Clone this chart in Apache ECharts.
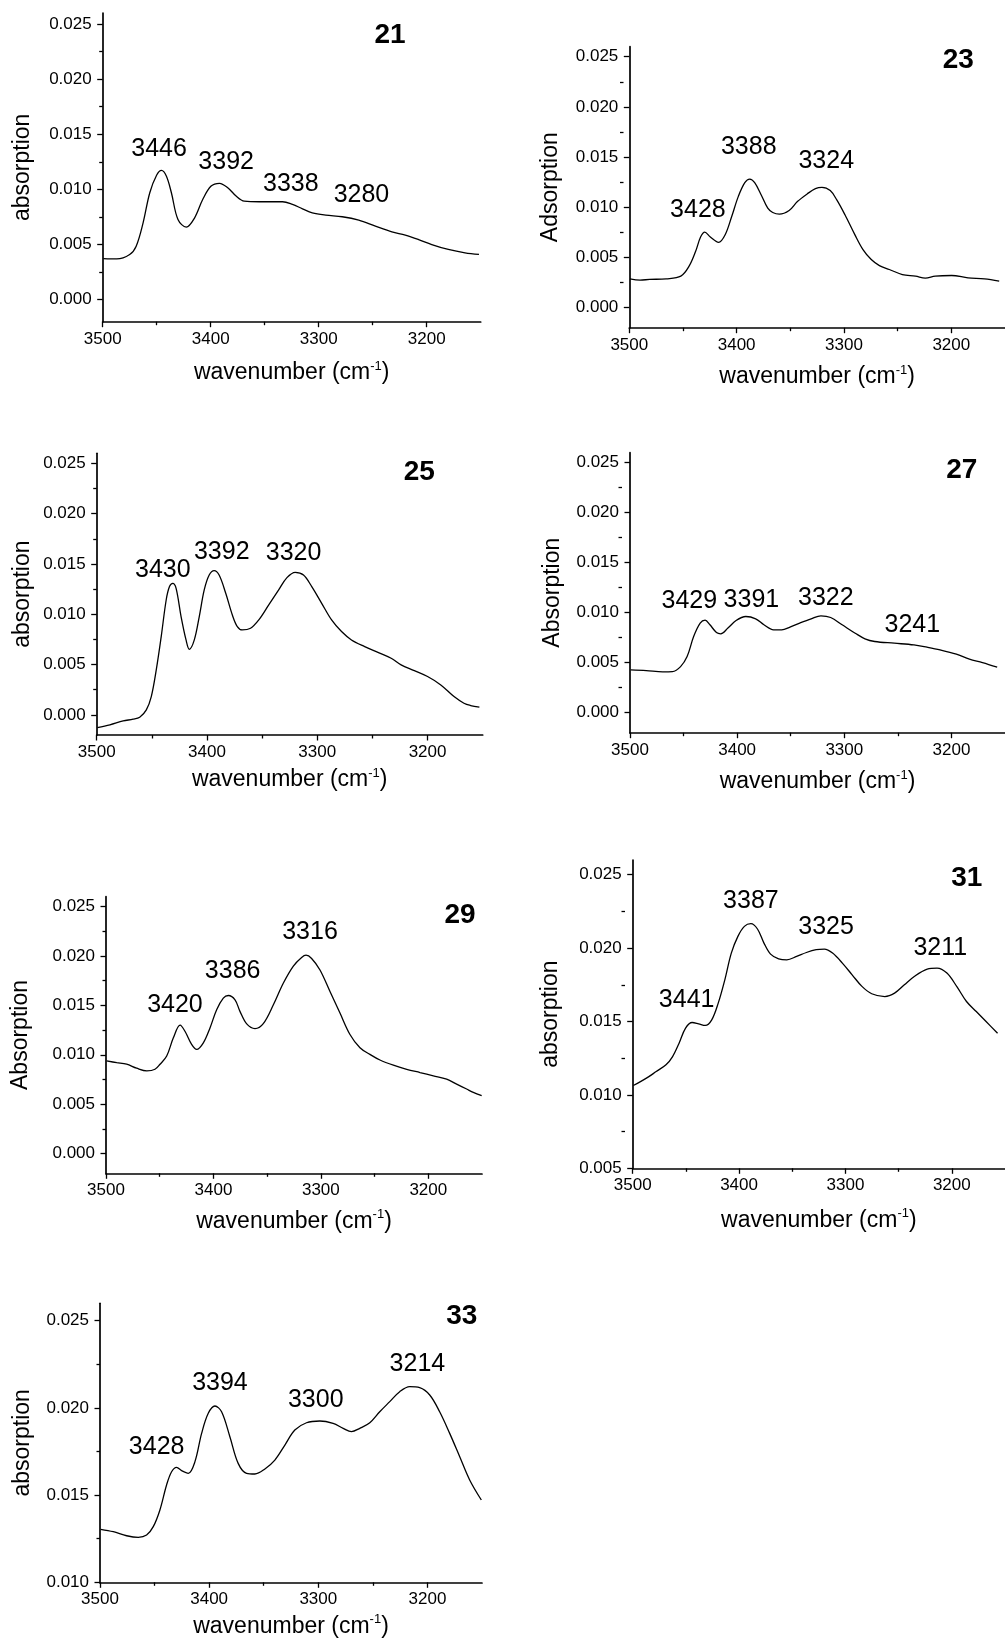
<!DOCTYPE html>
<html><head><meta charset="utf-8">
<script src="https://cdn.jsdelivr.net/npm/echarts@6/dist/echarts.min.js"></script>
<style>html,body{margin:0;padding:0;background:#fff}#c{width:1005px;height:1640px}</style>
</head><body><div id="c"></div>
<script>
// ---- tick values ----
const xMajor = [3200, 3300, 3400, 3500];
const xMinor = [3250, 3350, 3450];
const yMajorA = [0, 0.005, 0.010, 0.015, 0.020, 0.025];
const yMinorA = [0.0025, 0.0075, 0.0125, 0.0175, 0.0225];
const yMajorB = [0.005, 0.010, 0.015, 0.020, 0.025];
const yMinorB = [0.0075, 0.0125, 0.0175, 0.0225];
const yMajorC = [0.010, 0.015, 0.020, 0.025];
const yMinorC = [0.0125, 0.0175, 0.0225];

// ---- panel ids and titles ----
const panelIds = ['21', '23', '25', '27', '29', '31', '33'];
const yTitles = ['absorption', 'Adsorption', 'absorption', 'Absorption', 'Absorption', 'absorption', 'absorption'];

// ---- spectra [wavenumber, absorption] ----
const s21 = [[3499.4,0.00373],[3487,0.0037],[3475,0.0041],[3469,0.00485],[3462.6,0.00697],[3456.4,0.0097],[3450,0.0113],[3445.6,0.01173],[3441,0.0112],[3436.4,0.0097],[3430.3,0.00727],[3422.6,0.00658],[3415,0.0074],[3407.3,0.0091],[3399.6,0.0103],[3391.9,0.01055],[3384.2,0.01015],[3376.5,0.0094],[3368.9,0.00894],[3355,0.00888],[3333.5,0.00888],[3324.3,0.00864],[3315,0.00824],[3305.9,0.00788],[3293.5,0.00767],[3278.2,0.00752],[3262.9,0.00721],[3247.5,0.00667],[3232.2,0.00615],[3219.8,0.00585],[3207.5,0.00545],[3195.3,0.005],[3180,0.00455],[3164.5,0.00424],[3151.6,0.0041]];
const s23 = [[3499.4,0.00287],[3490,0.00274],[3481,0.00281],[3465.7,0.00287],[3452,0.00314],[3444.3,0.00413],[3438.2,0.00561],[3433.6,0.00703],[3429.7,0.00753],[3424.5,0.00703],[3416.8,0.0065],[3410.7,0.00726],[3404.6,0.00908],[3398.5,0.01106],[3392.4,0.01245],[3387.8,0.01281],[3383.2,0.01245],[3377.1,0.01123],[3371,0.00991],[3366.4,0.00948],[3360.2,0.00931],[3351.1,0.00968],[3343.4,0.01057],[3334.3,0.01133],[3326.6,0.01186],[3320.5,0.01199],[3312.8,0.01166],[3306.7,0.01073],[3299.1,0.00925],[3289.9,0.00727],[3282.3,0.00578],[3274.6,0.00479],[3267,0.00419],[3257.8,0.0038],[3245.6,0.0033],[3233.4,0.00314],[3224.2,0.00294],[3215,0.00314],[3199.7,0.0032],[3184.4,0.00297],[3169.1,0.00287],[3155.4,0.00264]];
const s25 = [[3499.4,-0.00126],[3488,-0.00099],[3476,-0.0006],[3467,-0.00043],[3461,-0.00023],[3455,0.0005],[3450.5,0.00182],[3446,0.00447],[3441.5,0.00778],[3437,0.01142],[3434,0.01275],[3431,0.01308],[3428,0.01258],[3423.5,0.00977],[3419,0.00745],[3416,0.00652],[3411.5,0.00745],[3407,0.00977],[3402.5,0.01242],[3398,0.0139],[3393.5,0.01434],[3389,0.0139],[3383,0.01209],[3377,0.00993],[3372.5,0.00877],[3368,0.00844],[3360.5,0.00861],[3353,0.00944],[3344,0.01093],[3335,0.01242],[3327.5,0.01364],[3320,0.01417],[3312.5,0.0139],[3305,0.01275],[3296,0.01109],[3287,0.00944],[3278,0.00828],[3269,0.00745],[3257,0.00679],[3245,0.00622],[3233,0.00563],[3224,0.00497],[3212,0.0044],[3200,0.00381],[3188,0.00298],[3176,0.00182],[3167,0.00116],[3161,0.00093],[3153,0.00076]];
const s27 = [[3499.4,0.00428],[3484.8,0.00421],[3469.5,0.00408],[3460.4,0.00411],[3452.8,0.00461],[3446.7,0.00561],[3440.6,0.00762],[3434.5,0.00896],[3429.9,0.00926],[3425.4,0.00879],[3419.3,0.00802],[3415.3,0.00789],[3408.6,0.00846],[3401,0.00922],[3391.9,0.00962],[3382.7,0.00939],[3375,0.00879],[3366,0.00829],[3358.4,0.00829],[3350.7,0.00856],[3341.6,0.00896],[3330.9,0.00939],[3321.8,0.00969],[3312.7,0.00952],[3302,0.00879],[3289.8,0.00795],[3280.7,0.00739],[3271.6,0.00712],[3253.3,0.00695],[3235,0.00678],[3222.8,0.00655],[3210.6,0.00628],[3195.4,0.00585],[3183.2,0.00535],[3171,0.00501],[3157.3,0.00455]];
const s29 = [[3499.4,0.00937],[3490,0.0092],[3480.8,0.00904],[3471.5,0.00864],[3462,0.00837],[3454.4,0.00853],[3449.7,0.00904],[3443.5,0.00987],[3437.3,0.01171],[3431,0.01299],[3426.5,0.01238],[3420.3,0.01105],[3415.6,0.01054],[3409.4,0.01121],[3403.2,0.01272],[3397,0.01456],[3390.8,0.01573],[3386.1,0.016],[3379.9,0.01556],[3375.3,0.01439],[3369,0.01312],[3361.3,0.01265],[3353.6,0.01315],[3344.2,0.01506],[3335,0.01724],[3325.6,0.01898],[3317.9,0.01985],[3313.8,0.02008],[3308.6,0.01975],[3300.8,0.01858],[3291.5,0.0164],[3282.2,0.01422],[3272.9,0.01205],[3263.6,0.01071],[3254.3,0.01004],[3245,0.00947],[3232.5,0.00894],[3220.1,0.00853],[3207.7,0.0082],[3195.3,0.00787],[3182.9,0.00753],[3173.6,0.00703],[3164.3,0.00653],[3158.1,0.00619],[3150.3,0.00586]];
const s31 = [[3499.4,0.01064],[3487.1,0.01114],[3477.9,0.01159],[3468.7,0.01205],[3462.5,0.01261],[3456.4,0.01352],[3450.3,0.01455],[3444.1,0.01493],[3438,0.01484],[3431.8,0.01473],[3425.7,0.01511],[3419.6,0.01625],[3413.4,0.01784],[3407.3,0.01966],[3401.1,0.0208],[3395,0.02148],[3388.9,0.02166],[3382.7,0.0213],[3376.6,0.02034],[3370.4,0.01959],[3362.8,0.01927],[3355.1,0.0192],[3345.9,0.01943],[3336.7,0.0197],[3327.5,0.01989],[3319.8,0.01993],[3312.1,0.01966],[3302.9,0.01898],[3293.7,0.01818],[3284.5,0.01739],[3275.3,0.01689],[3263,0.0167],[3253.8,0.01693],[3244.6,0.0175],[3235.3,0.01807],[3223.1,0.01857],[3213.9,0.01864],[3204.6,0.0183],[3195.4,0.01739],[3186.2,0.01636],[3177,0.01568],[3167.8,0.015],[3157,0.0142]];
const s33 = [[3499.4,0.01304],[3487.8,0.0129],[3475.6,0.01267],[3464.9,0.01258],[3457.3,0.01271],[3451.2,0.01319],[3445.1,0.01415],[3439,0.01558],[3434.4,0.01634],[3429.8,0.01659],[3425.2,0.0164],[3419.1,0.01625],[3413,0.01692],[3406.9,0.01854],[3400.8,0.01969],[3394.7,0.02011],[3388.6,0.01978],[3381,0.01835],[3373.4,0.01682],[3365.7,0.01625],[3358.1,0.01621],[3348.9,0.0165],[3339.8,0.01701],[3330.6,0.01787],[3321.5,0.01873],[3310.8,0.01915],[3298.6,0.01925],[3286.4,0.01911],[3277.2,0.01883],[3269.6,0.01864],[3262,0.01883],[3252.8,0.01915],[3243.7,0.01978],[3234.5,0.02036],[3225.4,0.02093],[3216.2,0.02122],[3207.1,0.02116],[3197.9,0.02074],[3188.8,0.01978],[3179.6,0.01854],[3170.4,0.0172],[3161.3,0.01587],[3150.6,0.01472]];

// ---- peak annotations [text, wavenumber, absorption] ----
const k21 = [['3446',3447.8,0.01364],['3392',3385.7,0.01243],['3338',3325.8,0.01052],['3280',3260.4,0.00948]];
const k23 = [['3428',3436.1,0.00974],['3388',3388.7,0.01602],['3324',3316.5,0.0146]];
const k25 = [['3430',3440,0.01434],['3392',3386.6,0.01622],['3320',3321.5,0.01612]];
const k27 = [['3429',3444.6,0.01113],['3391',3386.7,0.0113],['3322',3317.2,0.01146],['3241',3236.5,0.00879]];
const k29 = [['3420',3435.8,0.01506],['3386',3382.1,0.01851],['3316',3310.1,0.02242]];
const k31 = [['3441',3449.3,0.01648],['3387',3388.9,0.02318],['3325',3318.2,0.02141],['3211',3210.8,0.020]];
const k33 = [['3428',3448.1,0.01778],['3394',3390.1,0.02141],['3300',3302.3,0.02045],['3214',3209.2,0.0225]];

const spectra = [s21, s23, s25, s27, s29, s31, s33];
const peaks = [k21, k23, k25, k27, k29, k31, k33];
const yMajors = [yMajorA, yMajorA, yMajorA, yMajorA, yMajorA, yMajorB, yMajorC];
const yMinors = [yMinorA, yMinorA, yMinorA, yMinorA, yMinorA, yMinorB, yMinorC];
const yRanges = [[-0.002,0.026],[-0.002,0.026],[-0.002,0.026],[-0.002,0.026],[-0.002,0.026],[0.005,0.026],[0.010,0.026]];

// ---- layout (pixels) ----
const layout = [
  {left:102.7, top:13,    width:378,   height:308.7, yGap:81,   xGap:51, nx:390,   ny:35},
  {left:629.3, top:46.7,  width:381.5, height:281,   yGap:79.3, xGap:49, nx:958.3, ny:60},
  {left:96.7,  top:453.3, width:386,   height:281.7, yGap:75,   xGap:45, nx:419.3, ny:472.3},
  {left:630,   top:452.7, width:383,   height:280,   yGap:78.3, xGap:49, nx:961.7, ny:470},
  {left:106,   top:896.7, width:376,   height:276.6, yGap:86,   xGap:48, nx:460,   ny:915},
  {left:632.7, top:860,   width:380,   height:308.3, yGap:82.7, xGap:52, nx:966.7, ny:878.3},
  {left:100,   top:1303.3,width:382,   height:279,   yGap:78.3, xGap:44, nx:461.7, ny:1316.7}
];

const FONT = '"Liberation Sans", Arial, Helvetica, sans-serif';
const grid = [], xAxis = [], yAxis = [], series = [], graphic = [];
const lineStyleAxis = {color:'#000', width:1.7};
const tickStyle = {color:'#000', width:1.3};

layout.forEach((L, i) => {
  grid.push({left:L.left, top:L.top, width:L.width, height:L.height, containLabel:false});
  xAxis.push({
    type:'value', gridIndex:i, min:3150, max:3500, inverse:true, position:'bottom',
    axisLine:{show:true, onZero:false, lineStyle:lineStyleAxis},
    axisTick:{show:true, customValues:xMajor, length:5.5, lineStyle:tickStyle},
    axisLabel:{show:true, customValues:xMajor, color:'#000', fontSize:17, margin:9, fontFamily:FONT,
      formatter:v => String(Math.round(v))},
    splitLine:{show:false},
    name:'{a|wavenumber (cm}{s|-1}{a|)}', nameLocation:'middle', nameGap:L.xGap - 13,
    nameTextStyle:{color:'#000', fontSize:23, fontFamily:FONT,
      rich:{a:{fontSize:23, color:'#000', fontFamily:FONT, lineHeight:26},
            s:{fontSize:13, color:'#000', fontFamily:FONT, verticalAlign:'top', lineHeight:14}}}
  });
  // minor x ticks: a top-positioned axis shifted down onto the bottom edge, ticks pointing down
  xAxis.push({
    type:'value', gridIndex:i, min:3150, max:3500, inverse:true, position:'top', offset:-L.height,
    axisLine:{show:false, onZero:false}, axisLabel:{show:false}, splitLine:{show:false},
    axisTick:{show:true, inside:true, customValues:xMinor, length:3.5, lineStyle:tickStyle}
  });
  yAxis.push({
    type:'value', gridIndex:i, min:yRanges[i][0], max:yRanges[i][1], position:'left',
    axisLine:{show:true, onZero:false, lineStyle:lineStyleAxis},
    axisTick:{show:true, customValues:yMajors[i], length:5.5, lineStyle:tickStyle},
    axisLabel:{show:true, customValues:yMajors[i], color:'#000', fontSize:17, margin:11, fontFamily:FONT,
      formatter:v => Number(v).toFixed(3)},
    splitLine:{show:false},
    name:yTitles[i], nameLocation:'middle', nameGap:L.yGap - 12,
    nameTextStyle:{color:'#000', fontSize:23, fontFamily:FONT}
  });
  // minor y ticks: a right-positioned axis shifted onto the left edge, ticks pointing left
  yAxis.push({
    type:'value', gridIndex:i, min:yRanges[i][0], max:yRanges[i][1], position:'right', offset:-L.width,
    axisLine:{show:false, onZero:false}, axisLabel:{show:false}, splitLine:{show:false},
    axisTick:{show:true, inside:true, customValues:yMinors[i], length:3.5, lineStyle:tickStyle}
  });
  series.push({
    type:'line', xAxisIndex:2*i, yAxisIndex:2*i, data:spectra[i], smooth:0.35,
    showSymbol:false, symbol:'none', lineStyle:{color:'#000', width:1.3}, silent:true,
    markPoint:{
      silent:true, symbol:'circle', symbolSize:1, itemStyle:{color:'rgba(0,0,0,0)'},
      label:{show:true, position:'inside', formatter:'{b}', color:'#000', fontSize:25, fontFamily:FONT},
      data:peaks[i].map(p => ({name:p[0], coord:[p[1], p[2]]}))
    }
  });
  graphic.push({
    type:'text', x:L.nx, y:L.ny, silent:true,
    style:{text:panelIds[i], fill:'#000', font:'bold 28px ' + FONT, textAlign:'center', textVerticalAlign:'middle', verticalAlign:'middle'}
  });
});

const chart = echarts.init(document.getElementById('c'), null, {renderer:'canvas'});
chart.setOption({animation:false, backgroundColor:'#fff', grid, xAxis, yAxis, series, graphic});
</script>
</body></html>
